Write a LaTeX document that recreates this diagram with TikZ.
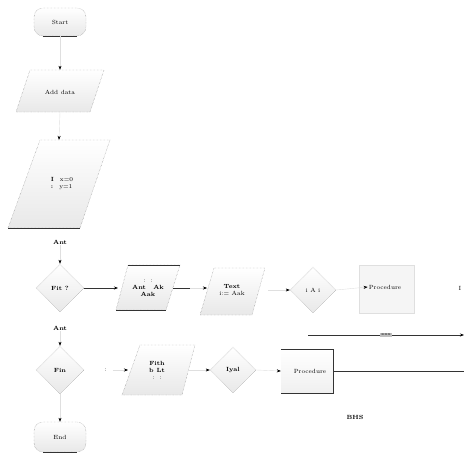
\documentclass[tikz,border=0pt]{standalone}
\usetikzlibrary{arrows.meta,shapes.geometric}
\begin{document}
\begin{tikzpicture}[x=1pt,y=-1pt,font=\fontsize{6}{7}\selectfont,
  box/.style={draw=gray,densely dotted,top color=white,bottom color=gray!18},
  lbl/.style={inner sep=1pt},
  conn/.style={gray!25,-{Stealth[black,length=4pt,width=3pt]}},
  dark/.style={black!80,semithick,-{Stealth[black,length=4pt,width=3pt]}},
  edge/.style={black!80,semithick}]
\useasboundingbox (0,0) rectangle (464,455);
% start terminator
\node[box,rounded corners=9pt,minimum width=52pt,minimum height=28pt] (start) at (60,22) {Start};
\draw[edge] ([xshift=9pt]start.south west) -- ([xshift=-9pt]start.south east);
% input parallelogram
\path[box] (30,70) -- (104,70) -- (90,112) -- (16,112) -- cycle;
\node[lbl] (inp) at (60,92) {Add data};
\node[minimum width=70pt,minimum height=42pt] (inpb) at (60,91) {};
% big parallelogram
\path[box] (40,140) -- (110,140) -- (80,228) -- (8,228) -- cycle;
\draw[edge] (8,228) -- (80,228);
\node[lbl,align=left] (big) at (62,184) {\textbf{I}\quad x=0\\ \textbf{:}\quad y=1};
\node[minimum width=70pt,minimum height=88pt] (bigb) at (59,184) {};
% diamond 1
\node[lbl] (l1) at (60,242) {\textbf{Ant}};
\node[box,diamond,aspect=1,minimum size=48pt,inner sep=0pt] (d1) at (60,288) {\textbf{Fit ?}};
% parallelogram 3
\path[box] (128,265) -- (180,265) -- (166,310) -- (116,310) -- cycle;
\draw[edge] (128,265) -- (180,265);
\draw[edge] (116,310) -- (166,310);
\node[lbl,align=center] (p3) at (148,288) {: \;:\\ \textbf{Ant \; Ak}\\ \textbf{Aak}};
% parallelogram 4
\path[box] (214,268) -- (265,268) -- (252,315) -- (200,315) -- cycle;
\node[lbl,align=center] (p4) at (232,290) {\textbf{Text}\\ i:= Aak};
% diamond 2
\node[box,diamond,aspect=1.2,minimum size=46pt,inner sep=0pt] (d2) at (313,290) {i A i};
% rectangle 6
\node[draw=gray!25,fill=gray!8,minimum width=55pt,minimum height=48pt] (r6) at (387,289) {};
\node[lbl] (r6t) at (385,287) {Procedure};
\node[lbl] at (460,288) {I};
% line top right
\coordinate (lr1) at (308,335);
\coordinate (lr2) at (464,335);
\draw[dark] (lr1) -- node[fill=gray!50,inner sep=1pt,font=\fontsize{4}{5}\selectfont]{\textbf{xxx}} (lr2);
% labels / arrows left column
\node[lbl] (l2) at (60,328) {\textbf{Ant}};
\node[box,diamond,aspect=1,minimum size=48pt,inner sep=0pt] (d3) at (60,370) {\textbf{Fin}};
% parallelogram 8
\path[box] (140,345) -- (195,345) -- (182,395) -- (122,395) -- cycle;
\node[lbl,align=center] (p8) at (157,370) {\textbf{Fith}\\ \textbf{b Lt}\\ : \;:};
\node[lbl] (m8) at (108,370) {: \;};
% diamond 4
\node[box,diamond,aspect=1.2,minimum size=46pt,inner sep=0pt] (d4) at (233,370) {\textbf{Iyal}};
% bracket process
\node[minimum width=52pt,minimum height=44pt,top color=white,bottom color=gray!12] (r10) at (307,371) {};
\draw[edge] (r10.north west) -- (r10.north east) -- (r10.south east) -- (r10.south west);
\node[lbl] at (310,371) {Procedure};
\coordinate (rr) at (464,371);
\draw[edge] (r10.east) -- (rr);
\node[lbl] at (355,417) {\textbf{BHS}};
% end terminator
\node[box,rounded corners=9pt,minimum width=52pt,minimum height=30pt] (stop) at (60,437) {End};
\draw[edge] ([xshift=9pt]stop.south west) -- ([xshift=-9pt]stop.south east);
% connectors
\draw[conn] (start.south) -- (inpb.north);
\draw[conn] (inpb.south) -- (bigb.north);
\draw[conn] (l1.south) -- (d1.north);
\draw[dark] (d1.east) -- (118,288);
\draw[edge] (173,288) -- (190,288);
\draw[conn] (190,288) -- (207,288);
\draw[conn] (268,290) -- (d2.west);
\draw[conn] (d2.east) -- (r6t.west);
\draw[conn] (l2.south) -- (d3.north);
\draw[conn] (m8.east) -- (128,370);
\draw[conn] (188,370) -- (d4.west);
\draw[conn] (d4.east) -- (r10.west);
\draw[conn] (d3.south) -- (stop.north);
\end{tikzpicture}
\end{document}
